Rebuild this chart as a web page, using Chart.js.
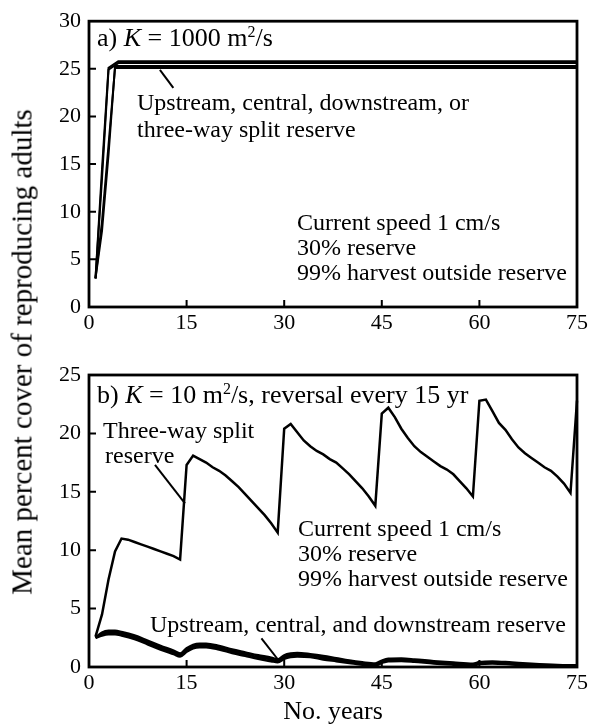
<!DOCTYPE html>
<html>
<head>
<meta charset="utf-8">
<script src="https://cdn.jsdelivr.net/npm/chart.js@4.4.0/dist/chart.umd.min.js"></script>
<style>
    body { margin: 0; background: #fff; }
    #wrap { position: relative; width: 593px; height: 728px; }
    #topChart { position: absolute; left: 0; top: 0; }
    #botChart { position: absolute; left: 0; top: 340px; }
    #ytitle {
        position: absolute; left: 22px; top: 352px;
        transform: translate(-50%, -50%) rotate(-90deg);
        font: 29px "Liberation Serif"; white-space: nowrap; color: #000;
    }
</style>
</head>
<body>
<div id="wrap">
    <canvas id="topChart" width="593" height="340"></canvas>
    <canvas id="botChart" width="593" height="388"></canvas>
    <div id="ytitle">Mean percent cover of reproducing adults</div>
</div>
<script>
// a) K = 1000 m2/s
var topUpX = [1, 2, 3, 4.5, 75];
var topUpY = [3.0, 14.5, 25.1, 25.8, 25.8];
var topCenX = [1, 2, 3, 4.5, 75];
var topCenY = [3.0, 13.5, 24.9, 25.6, 25.6];
var topDownX = [1, 2, 3, 4, 75];
var topDownY = [3.0, 9.0, 17.0, 25.1, 25.1];
var topSplitX = [1, 2, 3, 4, 75];
var topSplitY = [3.0, 8.0, 16.0, 25.3, 25.3];

// b) K = 10 m2/s, reversal every 15 yr
var years = [1, 2, 3, 4, 5, 6, 7, 8, 9, 10, 11, 12, 13, 14, 15, 16, 17, 18, 19, 20,
    21, 22, 23, 24, 25, 26, 27, 28, 29, 30, 31, 32, 33, 34, 35, 36, 37, 38, 39, 40,
    41, 42, 43, 44, 45, 46, 47, 48, 49, 50, 51, 52, 53, 54, 55, 56, 57, 58, 59, 60,
    61, 62, 63, 64, 65, 66, 67, 68, 69, 70, 71, 72, 73, 74, 75];
var threeWay = [2.6, 4.5, 7.5, 9.9, 11.0, 10.9, 10.7, 10.5, 10.3, 10.1,
    9.9, 9.7, 9.5, 9.2, 17.3, 18.1, 17.8, 17.5, 17.1, 16.8,
    16.4, 15.9, 15.4, 14.8, 14.2, 13.6, 13.0, 12.3, 11.5, 20.4,
    20.8, 20.1, 19.4, 18.9, 18.5, 18.2, 17.8, 17.5, 17.0, 16.5,
    15.9, 15.3, 14.6, 13.8, 21.7, 22.2, 21.4, 20.4, 19.6, 18.9,
    18.4, 18.0, 17.6, 17.2, 16.9, 16.5, 15.9, 15.3, 14.6, 22.8,
    22.9, 21.9, 20.9, 20.3, 19.5, 18.8, 18.3, 17.9, 17.5, 17.1,
    16.8, 16.3, 15.7, 14.9, 22.8];

var bandYears = [1, 2, 3, 4, 5, 7, 9, 11, 13, 14, 15, 16, 17, 18, 20, 22, 24, 26, 28, 29,
    30, 31, 32, 34, 36, 38, 40, 42, 44, 45, 46, 48, 50, 53, 56, 59, 60, 62, 65, 68, 72, 75];
var upstream = [2.5, 2.85, 2.95, 2.95, 2.85, 2.55, 2.1, 1.65, 1.25, 1.0, 1.45, 1.75, 1.85, 1.85,
    1.65, 1.35, 1.1, 0.85, 0.65, 0.5, 0.85, 1.0, 1.05, 1.0, 0.8, 0.6, 0.45, 0.3, 0.2, 0.45,
    0.6, 0.62, 0.55, 0.4, 0.3, 0.2, 0.35, 0.4, 0.3, 0.2, 0.12, 0.1];
var central = [2.5, 2.95, 3.1, 3.1, 3.0, 2.7, 2.25, 1.8, 1.4, 1.15, 1.6, 1.9, 2.0, 2.0,
    1.8, 1.5, 1.25, 1.0, 0.8, 0.65, 1.0, 1.15, 1.2, 1.1, 0.95, 0.75, 0.55, 0.4, 0.3, 0.55,
    0.7, 0.72, 0.65, 0.5, 0.38, 0.28, 0.42, 0.48, 0.38, 0.28, 0.18, 0.15];
var downstream = [2.5, 2.7, 2.8, 2.8, 2.7, 2.4, 1.95, 1.5, 1.1, 0.9, 1.3, 1.6, 1.7, 1.7,
    1.5, 1.2, 0.95, 0.7, 0.5, 0.4, 0.7, 0.85, 0.9, 0.85, 0.65, 0.5, 0.35, 0.2, 0.1, 0.35,
    0.5, 0.52, 0.45, 0.3, 0.2, 0.12, 0.25, 0.3, 0.22, 0.12, 0.06, 0.05];

var xTicks = [0, 15, 30, 45, 60, 75];

var SERIF = '"Liberation Serif", "Times New Roman", serif';

function toPoints(xs, ys) {
    return xs.map(function (x, i) { return {x: x, y: ys[i]}; });
}

function line(label, xs, ys, width, smooth) {
    return {
        label: label,
        data: toPoints(xs, ys),
        borderColor: '#000',
        borderWidth: width,
        pointRadius: 0,
        fill: false,
        tension: 0,
        cubicInterpolationMode: smooth ? 'monotone' : 'default',
        clip: 6
    };
}

function drawRich(ctx, parts, x, y, size) {
    parts.forEach(function (p) {
        var fs = p.sup ? Math.round(size * 0.6) : size;
        ctx.font = (p.italic ? 'italic ' : '') + fs + 'px ' + SERIF;
        ctx.fillText(p.t, x, p.sup ? y - size * 0.36 : y);
        x += ctx.measureText(p.t).width;
    });
}

// frame, inward ticks, text notes and leader lines
var notesPlugin = {
    id: 'notes',
    afterDatasetsDraw: function (chart) {
        var a = chart.chartArea, ctx = chart.ctx;
        var sx = chart.scales.x, sy = chart.scales.y;
        var cfg = chart.options.plugins.notes;
        ctx.save();
        ctx.strokeStyle = '#000';
        ctx.lineWidth = 2.8;
        ctx.strokeRect(a.left, a.top, a.right - a.left, a.bottom - a.top);
        ctx.lineWidth = 2;
        ctx.beginPath();
        xTicks.slice(1, -1).forEach(function (v) {
            var px = sx.getPixelForValue(v);
            ctx.moveTo(px, a.bottom);
            ctx.lineTo(px, a.bottom - 7);
        });
        sy.ticks.forEach(function (t) {
            if (t.value === sy.min || t.value === sy.max) return;
            var py = sy.getPixelForValue(t.value);
            ctx.moveTo(a.left, py);
            ctx.lineTo(a.left + 7, py);
        });
        ctx.stroke();

        ctx.lineWidth = 2;
        cfg.leaders.forEach(function (l) {
            ctx.beginPath();
            ctx.moveTo(sx.getPixelForValue(l[0]), sy.getPixelForValue(l[1]));
            ctx.lineTo(sx.getPixelForValue(l[2]), sy.getPixelForValue(l[3]));
            ctx.stroke();
        });

        ctx.fillStyle = '#000';
        ctx.textBaseline = 'alphabetic';
        ctx.textAlign = 'left';
        cfg.texts.forEach(function (t) {
            drawRich(ctx, t.parts || [{t: t.text}], t.x, t.y, t.size);
        });
        ctx.restore();
    }
};

function makeOptions(yMax, padTop, xAxisHeight, showTitle, notes) {
    return {
        responsive: false,
        animation: false,
        layout: {padding: {top: padTop, right: 16, left: 0, bottom: 0}},
        plugins: {legend: {display: false}, tooltip: {enabled: false}, notes: notes},
        scales: {
            x: {
                type: 'linear', min: 0, max: 75,
                afterBuildTicks: function (axis) {
                    axis.ticks = xTicks.map(function (v) { return {value: v}; });
                },
                afterFit: function (axis) { axis.height = xAxisHeight; },
                grid: {display: false, drawTicks: false},
                border: {display: false},
                ticks: {color: '#000', padding: 3, maxRotation: 0, font: {family: SERIF, size: 22}},
                title: {
                    display: showTitle, text: 'No. years', color: '#000',
                    font: {family: SERIF, size: 26}, padding: 0
                }
            },
            y: {
                min: 0, max: yMax,
                afterFit: function (axis) { axis.width = 89; },
                grid: {display: false, drawTicks: false},
                border: {display: false},
                ticks: {stepSize: 5, color: '#000', padding: 8, font: {family: SERIF, size: 22}}
            }
        }
    };
}

new Chart(document.getElementById('topChart'), {
    type: 'line',
    data: {
        datasets: [
            line('Upstream reserve', topUpX, topUpY, 2),
            line('Central reserve', topCenX, topCenY, 2),
            line('Downstream reserve', topDownX, topDownY, 2),
            line('Three-way split reserve', topSplitX, topSplitY, 2)
        ]
    },
    options: makeOptions(30, 17, 33, false, {
        texts: [
            {parts: [{t: 'a) '}, {t: 'K', italic: true}, {t: ' = 1000 m'}, {t: '2', sup: true}, {t: '/s'}], x: 97, y: 46, size: 26},
            {text: 'Upstream, central, downstream, or', x: 137, y: 110, size: 24},
            {text: 'three-way split reserve', x: 137, y: 137, size: 24},
            {text: 'Current speed 1 cm/s', x: 297, y: 230, size: 24},
            {text: '30% reserve', x: 297, y: 255, size: 24},
            {text: '99% harvest outside reserve', x: 297, y: 280, size: 24}
        ],
        leaders: [[10.9, 24.9, 12.96, 23.0]]
    }),
    plugins: [notesPlugin]
});

new Chart(document.getElementById('botChart'), {
    type: 'line',
    data: {
        datasets: [
            line('Three-way split reserve', years, threeWay, 2.5),
            line('Upstream reserve', bandYears, upstream, 2.5, true),
            line('Central reserve', bandYears, central, 2.5, true),
            line('Downstream reserve', bandYears, downstream, 2.5, true)
        ]
    },
    options: makeOptions(25, 35, 61, true, {
        texts: [
            {parts: [{t: 'b) '}, {t: 'K', italic: true}, {t: ' = 10 m'}, {t: '2', sup: true}, {t: '/s, reversal every 15 yr'}], x: 97, y: 63, size: 26},
            {text: 'Three-way split', x: 103, y: 98, size: 24},
            {text: 'reserve', x: 105, y: 123, size: 24},
            {text: 'Current speed 1 cm/s', x: 298, y: 196, size: 24},
            {text: '30% reserve', x: 298, y: 221, size: 24},
            {text: '99% harvest outside reserve', x: 298, y: 246, size: 24},
            {text: 'Upstream, central, and downstream reserve', x: 150, y: 292, size: 24}
        ],
        leaders: [[10.14, 17.3, 14.75, 14.0], [26.5, 2.46, 29.1, 0.6]]
    }),
    plugins: [notesPlugin]
});
</script>
</body>
</html>
